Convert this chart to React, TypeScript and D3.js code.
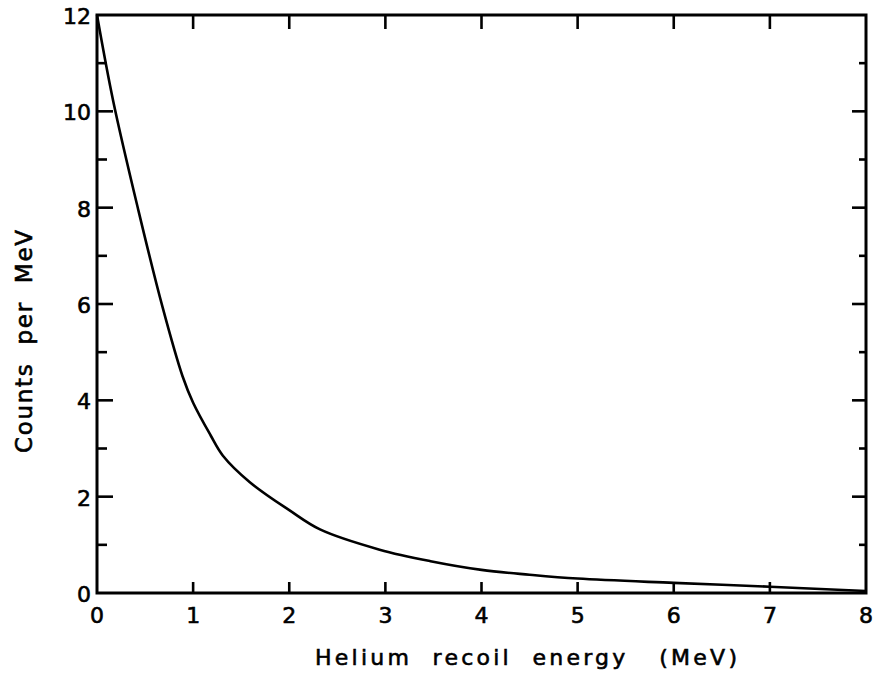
import React from 'react';
import * as d3 from 'd3';

// Spectrum
const energy = [0, 0.17, 0.43, 0.68, 0.89, 1.0, 1.18, 1.31, 1.59, 2.0, 2.32, 2.94, 3.47, 4.0, 4.5, 5.0, 6.0, 7.0, 8.0];
const counts = [12, 10.2, 7.95, 5.95, 4.5, 3.95, 3.28, 2.85, 2.3, 1.72, 1.32, 0.9, 0.66, 0.48, 0.38, 0.3, 0.21, 0.13, 0.04];

const xTicks = [0, 1, 2, 3, 4, 5, 6, 7, 8];
const yMajor = [0, 2, 4, 6, 8, 10, 12];
const yMinor = [1, 3, 5, 7, 9, 11];

const xTitle = 'Helium  recoil  energy   (MeV)';
const yTitle = 'Counts  per  MeV';

const W = 876;
const H = 675;
const margin = { top: 15, right: 10, bottom: 82, left: 97 };
const FONT = '"DejaVu Sans", "Liberation Sans", sans-serif';

export default function App() {
  const x = d3.scaleLinear().domain([0, 8]).range([margin.left, W - margin.right]);
  const y = d3.scaleLinear().domain([0, 12]).range([H - margin.bottom, margin.top]);

  const line = d3
    .line<number>()
    .x((_, i) => x(energy[i]))
    .y((d) => y(d))
    .curve(d3.curveCatmullRom.alpha(0.5));

  const x0 = x(0);
  const x1 = x(8);
  const y0 = y(0);
  const y1 = y(12);

  const textStyle = { fontFamily: FONT, stroke: '#000', strokeWidth: 0.6 };

  return (
    <svg width={W} height={H} style={{ position: 'absolute', left: 0, top: 0, background: '#fff' }}>
      {/* curve */}
      <path d={line(counts) || ''} fill="none" stroke="#000" strokeWidth={2.6} strokeLinejoin="round" />

      {/* frame */}
      <rect x={x0} y={y1} width={x1 - x0} height={y0 - y1} fill="none" stroke="#000" strokeWidth={3} />

      {/* x ticks, bottom and top */}
      {xTicks.slice(1, -1).map((t) => (
        <g key={`xt${t}`} stroke="#000" strokeWidth={2.6}>
          <line x1={x(t)} x2={x(t)} y1={y0} y2={y0 - 11} />
          <line x1={x(t)} x2={x(t)} y1={y1} y2={y1 + 14} />
        </g>
      ))}

      {/* y ticks, left and right */}
      {yMajor.slice(1, -1).map((t) => (
        <g key={`ym${t}`} stroke="#000" strokeWidth={2.6}>
          <line x1={x0} x2={x0 + 16} y1={y(t)} y2={y(t)} />
          <line x1={x1} x2={x1 - 14} y1={y(t)} y2={y(t)} />
        </g>
      ))}
      {yMinor.map((t) => (
        <g key={`yn${t}`} stroke="#000" strokeWidth={2.6}>
          <line x1={x0} x2={x0 + 10} y1={y(t)} y2={y(t)} />
          <line x1={x1} x2={x1 - 7} y1={y(t)} y2={y(t)} />
        </g>
      ))}

      {/* tick labels */}
      {xTicks.map((t) => (
        <text key={`xl${t}`} x={x(t)} y={y0 + 30} textAnchor="middle" fontSize={22} style={textStyle}>
          {t}
        </text>
      ))}
      {yMajor.map((t) => (
        <text key={`yl${t}`} x={x0 - 6} y={y(t) + 9} textAnchor="end" fontSize={22} style={textStyle}>
          {t}
        </text>
      ))}

      {/* axis titles */}
      <text
        x={315}
        y={665}
        fontSize={22}
        textLength={422}
        lengthAdjust="spacing"
        style={{ ...textStyle, whiteSpace: 'pre' }}
      >
        {xTitle}
      </text>
      <text
        transform="translate(32,453) rotate(-90)"
        fontSize={23}
        textLength={223}
        lengthAdjust="spacing"
        style={{ ...textStyle, whiteSpace: 'pre' }}
      >
        {yTitle}
      </text>
    </svg>
  );
}
